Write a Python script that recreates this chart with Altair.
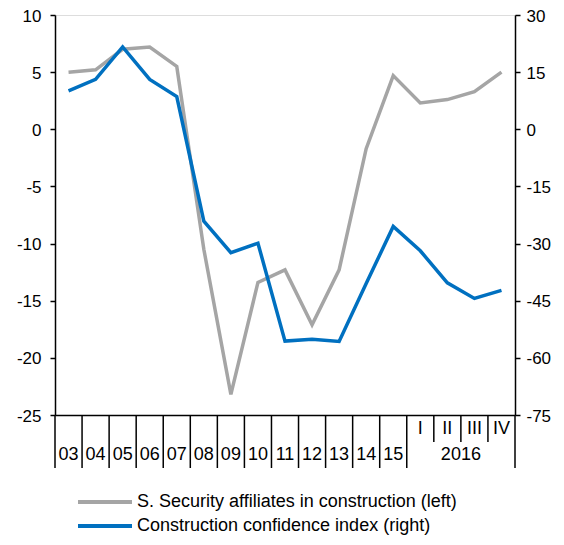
import altair as alt
import pandas as pd

# ---- data ----
categories = ["03", "04", "05", "06", "07", "08", "09", "10", "11", "12", "13",
              "14", "15", "I", "II", "III", "IV"]
security = [5.0, 5.2, 7.0, 7.2, 5.5, -10.5, -23.2, -13.4, -12.3, -17.1, -12.3,
            -1.7, 4.7, 2.3, 2.6, 3.3, 5.0]
confidence = [10.1, 13.1, 21.6, 13.1, 8.6, -24.1, -32.4, -29.9, -55.6, -55.1,
              -55.7, -40.5, -25.5, -31.9, -40.3, -44.4, -42.3]
year_labels = categories[:13]
quarter_labels = ["I", "II", "III", "IV"]
group_label = ["2016"]
group_anchor = ["III"]
long_tick_cats = categories[:14]
short_tick_cats = ["II", "III", "IV"]
end_tick_cat = ["IV"]
left_ticks = [-25, -20, -15, -10, -5, 0, 5, 10]
right_ticks = [-75, -60, -45, -30, -15, 0, 15, 30]
series_names = ["S. Security affiliates in construction (left)",
                "Construction confidence index (right)"]
series_colors = ["#A5A5A5", "#0070C0"]

W, H = 460, 400
FONT = "Liberation Sans"
FS = 18
AFS = 17

df = pd.DataFrame({"cat": categories, "security": security, "confidence": confidence})

xscale = alt.Scale(type="band", domain=categories, paddingInner=0, paddingOuter=0)
xaxis = alt.Axis(labels=False, ticks=False, domain=True, grid=False, title=None,
                 domainColor="black", domainWidth=1.5)


def X(band):
    return alt.X("cat:N", scale=xscale, axis=xaxis, bandPosition=band)


gray_line = alt.Chart(df).mark_line(color=series_colors[0], strokeWidth=3.5).encode(
    x=X(0.5),
    y=alt.Y("security:Q",
            scale=alt.Scale(domain=[-25, 10], nice=False, zero=False),
            axis=alt.Axis(values=left_ticks, orient="left", title=None, grid=False,
                          tickSize=5, tickWidth=1.5, tickColor="black",
                          domainColor="black", domainWidth=1.5,
                          labelExpr="'' + datum.value", labelOffset=1,
                          labelFont=FONT, labelFontSize=AFS, labelColor="black",
                          labelPadding=9)),
)

blue_line = alt.Chart(df).mark_line(color=series_colors[1], strokeWidth=3.5).encode(
    x=X(0.5),
    y=alt.Y("confidence:Q",
            scale=alt.Scale(domain=[-75, 30], nice=False, zero=False),
            axis=alt.Axis(values=right_ticks, orient="right", title=None, grid=False,
                          tickSize=5, tickWidth=1.5, tickColor="black",
                          domainColor="black", domainWidth=1.5,
                          labelExpr="'' + datum.value", labelOffset=1,
                          labelFont=FONT, labelFontSize=AFS, labelColor="black",
                          labelPadding=6)),
)

long_ticks = alt.Chart(pd.DataFrame({"cat": long_tick_cats})).mark_rule(
    color="black", strokeWidth=1.5).encode(
    x=X(0), y=alt.value(H), y2=alt.value(H + 53))

end_ticks = alt.Chart(pd.DataFrame({"cat": end_tick_cat})).mark_rule(
    color="black", strokeWidth=1.5).encode(
    x=X(1), y=alt.value(H), y2=alt.value(H + 53))

short_ticks = alt.Chart(pd.DataFrame({"cat": short_tick_cats})).mark_rule(
    color="black", strokeWidth=1.5).encode(
    x=X(0), y=alt.value(H), y2=alt.value(H + 27))

year_text = alt.Chart(pd.DataFrame({"cat": year_labels})).mark_text(
    font=FONT, fontSize=FS, color="black", baseline="middle", align="center").encode(
    x=X(0.5), y=alt.value(H + 40), text="cat:N")

quarter_text = alt.Chart(pd.DataFrame({"cat": quarter_labels})).mark_text(
    font=FONT, fontSize=FS, color="black", baseline="middle", align="center").encode(
    x=X(0.5), y=alt.value(H + 14), text="cat:N")

group_text = alt.Chart(pd.DataFrame({"cat": group_anchor, "label": group_label})).mark_text(
    font=FONT, fontSize=FS, color="black", baseline="middle", align="center").encode(
    x=X(0), y=alt.value(H + 40), text="label:N")

leg_df = pd.DataFrame({"series": series_names})
leg_y = alt.Y("series:N", scale=alt.Scale(type="point", domain=series_names,
                                          range=[H + 87, H + 111], padding=0),
              axis=None)
leg_color = alt.Color("series:N", scale=alt.Scale(domain=series_names, range=series_colors),
                      legend=None)

legend_rule = alt.Chart(leg_df).mark_rule(strokeWidth=4).encode(
    x=alt.value(23), x2=alt.value(77), y=leg_y, color=leg_color)

legend_text = alt.Chart(leg_df).mark_text(
    font=FONT, fontSize=FS, color="black", baseline="middle", align="left").encode(
    x=alt.value(82), y=leg_y, text="series:N")

chart = alt.layer(
    gray_line, blue_line, long_ticks, end_ticks, short_ticks,
    year_text, quarter_text, group_text, legend_rule, legend_text,
).resolve_scale(y="independent").properties(
    width=W, height=H,
    autosize=alt.AutoSizeParams(type="none"),
    padding={"left": 47, "top": 7, "right": 41, "bottom": 122},
).configure_view(stroke=None).configure(background="white")

chart.save("out.html", embed_options={"renderer": "svg", "actions": False})
